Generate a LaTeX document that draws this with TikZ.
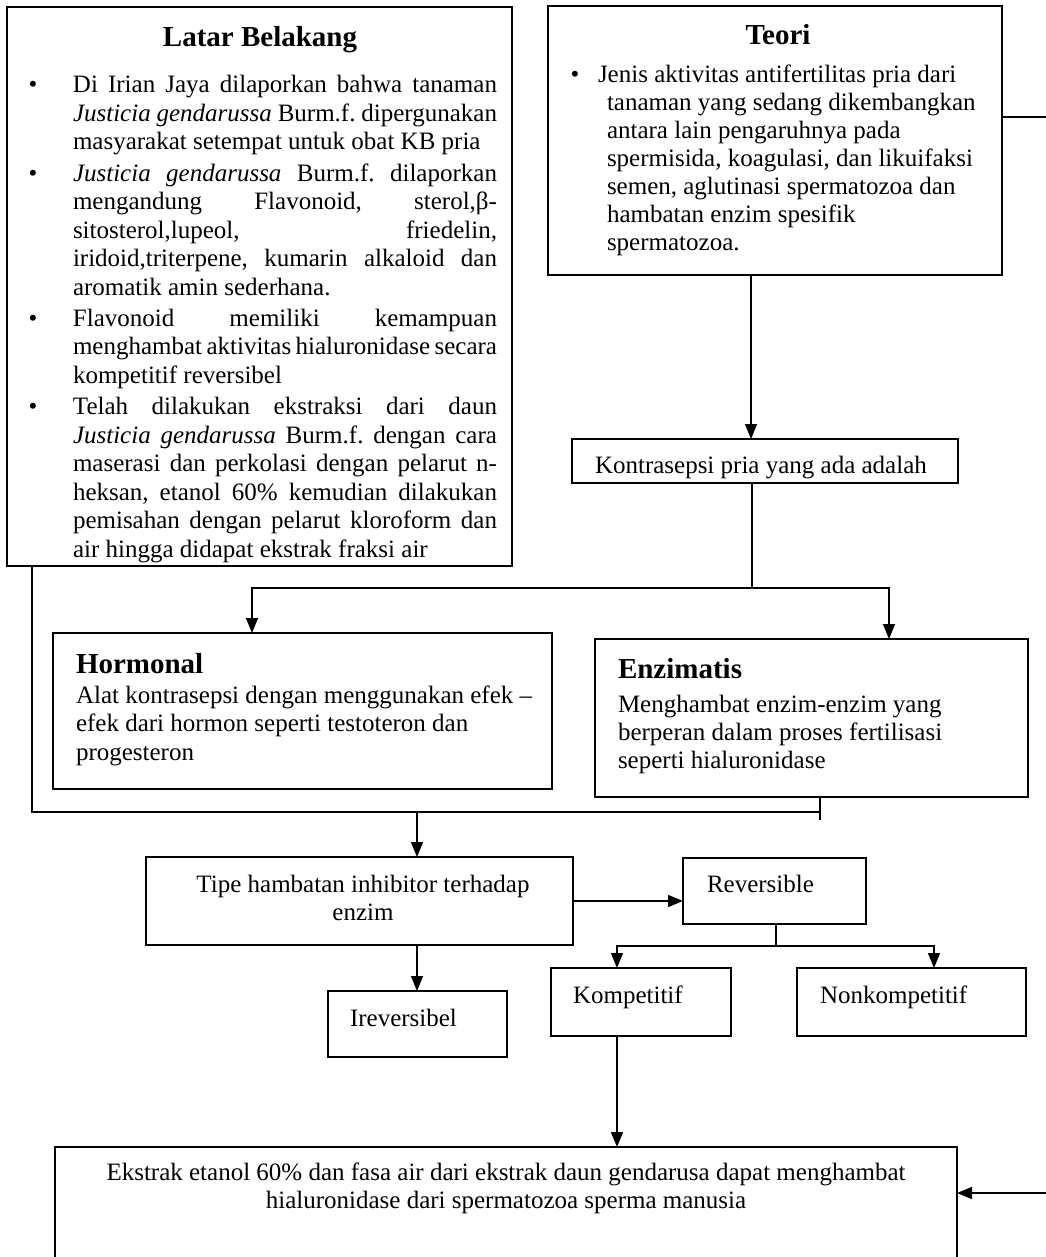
\documentclass[tikz,border=0pt]{standalone}
\usepackage{fontspec}
\setmainfont{Liberation Serif}
\usetikzlibrary{arrows.meta}
\newcommand\Jline[1]{\makebox[\linewidth][s]{#1}\par}
\newcommand\Lline[1]{\makebox[\linewidth][l]{#1}\par}
\newcommand\bul{\leavevmode\llap{\textbullet\hspace{35.7pt}}}
\hbadness=10000 \hfuzz=50pt
\frenchspacing
\begin{document}
\begin{tikzpicture}[x=1pt,y=-1pt,
  box/.style={draw, line width=1.4pt, inner sep=0pt, outer sep=0pt, anchor=north west},
  ln/.style={line width=1.4pt},
  arr/.style={line width=1.4pt, -{Triangle[length=15pt,width=12pt]}},
  txt/.style={inner sep=0pt, outer sep=0pt, font=\fontsize{25}{28.5}\selectfont},
  ttl/.style={inner sep=0pt, outer sep=0pt, font=\fontsize{29}{33}\selectfont\bfseries}]
\useasboundingbox[fill=white] (0,0) rectangle (1045,1257);

% boxes
\node[box, minimum width=505pt, minimum height=559pt] (lb) at (7,7) {};
\node[box, minimum width=454pt, minimum height=269pt] (teori) at (548,6) {};
\node[box, minimum width=386pt, minimum height=44pt] (kontra) at (572,439) {};
\node[box, minimum width=499pt, minimum height=156pt] (horm) at (53,633) {};
\node[box, minimum width=433pt, minimum height=158pt] (enz) at (595,639) {};
\node[box, minimum width=427pt, minimum height=88pt] (tipe) at (146,857) {};
\node[box, minimum width=183pt, minimum height=66pt] (rev) at (683,858) {};
\node[box, minimum width=179pt, minimum height=66pt] (irev) at (328,991) {};
\node[box, minimum width=180pt, minimum height=68pt] (komp) at (551,968) {};
\node[box, minimum width=229pt, minimum height=68pt] (nonk) at (797,968) {};
\node[box, minimum width=902pt, minimum height=140pt] (final) at (55,1147) {};

% titles
\node[ttl, anchor=base] (lbH) at (260,47) {Latar Belakang};
\node[ttl, anchor=base] (teoriH) at (778,45) {Teori};
\node[ttl, anchor=base west] (hormH) at (76,673) {Hormonal};
\node[ttl, anchor=base west] (enzH) at (618,678) {Enzimatis};

% Latar Belakang text
\node[txt, anchor=base west] (lbT) at (73,93) {\parbox[t]{424pt}{\parindent0pt\parskip0pt
\bul\Jline{Di Irian Jaya dilaporkan bahwa tanaman}
\Jline{\textit{Justicia gendarussa} Burm.f. dipergunakan}
\Lline{masyarakat setempat untuk obat KB pria}
\vspace{2.7pt}
\bul\Jline{\textit{Justicia gendarussa} Burm.f. dilaporkan}
\Jline{mengandung Flavonoid, sterol,β-}
\Jline{sitosterol,lupeol, friedelin,}
\Jline{iridoid,triterpene, kumarin alkaloid dan}
\Lline{aromatik amin sederhana.}
\vspace{2.7pt}
\bul\Jline{Flavonoid memiliki kemampuan}
\Jline{menghambat aktivitas hialuronidase secara}
\Lline{kompetitif reversibel}
\vspace{2.7pt}
\bul\Jline{Telah dilakukan ekstraksi dari daun}
\Jline{\textit{Justicia gendarussa} Burm.f. dengan cara}
\Jline{maserasi dan perkolasi dengan pelarut n-}
\Jline{heksan, etanol 60\% kemudian dilakukan}
\Jline{pemisahan dengan pelarut kloroform dan}
\Lline{air hingga didapat ekstrak fraksi air}}};

% Teori text
\node[txt, anchor=base west] (teoriT) at (598,83) {\parbox[t]{400pt}{\fontsize{25}{28}\selectfont\raggedright\parindent0pt\parskip0pt
\leavevmode\llap{\textbullet\hspace{18.7pt}}Jenis aktivitas antifertilitas pria dari\par
\hspace*{9pt}tanaman yang sedang dikembangkan\par
\hspace*{9pt}antara lain pengaruhnya pada\par
\hspace*{9pt}spermisida, koagulasi, dan likuifaksi\par
\hspace*{9pt}semen, aglutinasi spermatozoa dan\par
\hspace*{9pt}hambatan enzim spesifik\par
\hspace*{9pt}spermatozoa.}};

% other texts
\node[txt, anchor=base west] (kontraT) at (595,473) {Kontrasepsi pria yang ada adalah};
\node[txt, anchor=base west] (hormT) at (76,703) {\parbox[t]{470pt}{\parindent0pt Alat kontrasepsi dengan menggunakan efek –\\efek dari hormon seperti testoteron dan\\progesteron}};
\node[txt, anchor=base west] (enzT) at (618,712) {\parbox[t]{400pt}{\fontsize{25}{28}\selectfont\parindent0pt Menghambat enzim-enzim yang\\berperan dalam proses fertilisasi\\seperti hialuronidase}};
\node[txt, anchor=base] (tipeT) at (363,892) {\parbox[t]{420pt}{\fontsize{25}{28}\selectfont\centering Tipe hambatan inhibitor terhadap\\enzim}};
\node[txt, anchor=base west] (revT) at (707,892) {Reversible};
\node[txt, anchor=base west] (irevT) at (350,1026) {Ireversibel};
\node[txt, anchor=base west] (kompT) at (573,1003) {Kompetitif};
\node[txt, anchor=base west] (nonkT) at (820,1003) {Nonkompetitif};
\node[txt, anchor=base] (finalT) at (506,1180) {\parbox[t]{890pt}{\fontsize{25}{28}\selectfont\centering Ekstrak etanol 60\% dan fasa air dari ekstrak daun gendarusa dapat menghambat\\hialuronidase dari spermatozoa sperma manusia}};

% connectors
\coordinate (yT) at (0,117);
\coordinate (rT) at (1048,117);
\coordinate (rB) at (1048,1193);
\draw[arr] (teori.east |- yT) -- (rT) -- (rB) -- (final.east |- rB);

\coordinate (cT) at (751,0);
\draw[arr] (teori.south -| cT) -- (kontra.north -| cT);

\coordinate (jM) at (752,588);
\coordinate (jL) at (252,588);
\coordinate (jR) at (889,588);
\draw[ln] (kontra.south -| jM) -- (jM);
\draw[arr] (jM) -| (horm.north -| jL);
\draw[arr] (jM) -| (enz.north -| jR);

\coordinate (eL) at (32,812);
\coordinate (eR) at (820,812);
\coordinate (eRs) at (820,820);
\coordinate (eT) at (417,812);
\draw[ln] (lb.south -| eL) -- (eL) -- (eR);
\draw[ln] (enz.south -| eR) -- (eRs);
\draw[arr] (eT) -- (tipe.north -| eT);
\draw[arr] (tipe.east) -- (rev.west |- tipe.east);
\draw[arr] (tipe.south -| eT) -- (irev.north -| eT);

\coordinate (rM) at (776,946);
\coordinate (rL) at (617,946);
\coordinate (rR) at (934,946);
\draw[ln] (rev.south -| rM) -- (rM);
\draw[arr] (rM) -| (komp.north -| rL);
\draw[arr] (rM) -| (nonk.north -| rR);
\draw[arr] (komp.south -| rL) -- (final.north -| rL);
\end{tikzpicture}
\end{document}
